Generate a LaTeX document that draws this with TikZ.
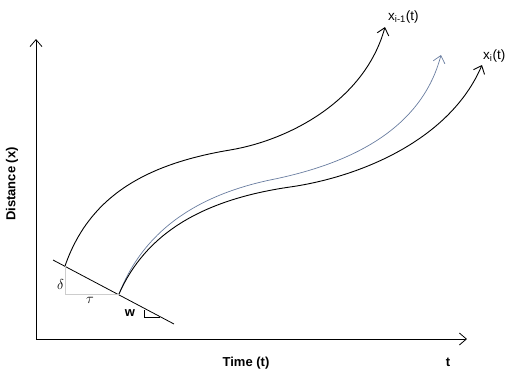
\documentclass[tikz,border=0pt]{standalone}
\usepackage{fontspec}
\setsansfont{Liberation Sans}
\usetikzlibrary{arrows.meta}
\usetikzlibrary{positioning}
\definecolor{trailblue}{RGB}{105,125,160}
\definecolor{guide}{RGB}{205,205,205}
\tikzset{>={Straight Barb[length=7pt,width=12pt]}}
\tikzset{traj/.style={line width=0.9pt,->}}
\tikzset{axlab/.style={font=\sffamily\bfseries\fontsize{13}{15}\selectfont,inner sep=0pt}}
\tikzset{curvlab/.style={font=\sffamily\fontsize{13.5}{15}\selectfont,anchor=west,inner sep=0pt}}
\tikzset{greek/.style={font=\fontsize{14}{16}\selectfont,inner sep=0pt}}

\begin{document}
\begin{tikzpicture}[x=1pt,y=-1pt]
        \useasboundingbox (0,0) rectangle (516,381);

        \coordinate (O) at (36,339);
        \coordinate (Ytop) at (36,39);
        \coordinate (Xend) at (467,339);

        \draw[line width=0.8pt,->] (O) -- (Ytop);
        \draw[line width=0.8pt,->] (O) -- (Xend);

        \node[axlab,rotate=90] (dist) at (12,184) {Distance (x)};
        \node[axlab] (time) at (246,363) {Time (t)};
        \node[axlab] (tend) at (448,362) {t};

        % stop line
        \coordinate (L1) at (53,260);
        \coordinate (L2) at (174,324);
        \draw[line width=0.8pt] (L1) -- (L2);

        \coordinate (A0) at (65,266);
        \coordinate (B0) at (119,294);
        \coordinate (G) at (65,294);
        \draw[guide] (A0) -- (G) -- (B0);
        \node[greek] (delta) [left=1pt of G, yshift=10pt] {$\delta$};
        \node[greek] (tau) [below=3pt of G, xshift=25pt] {$\tau$};

        \node[axlab] (w) at (130,313) {w};
        \coordinate (R1) at (144,310);
        \coordinate (R2) at (144,317);
        \coordinate (R3) at (160,317);
        \draw[line width=0.6pt] (R1) -- (R2) -- (R3);

        % trajectories
        \coordinate (A1) at (385,27);
        \coordinate (B1) at (482,65);
        \coordinate (C1) at (441,55);
        \draw[traj] (A0) .. controls (88,200) and (140,165) .. (230,150)
                .. controls (290,140) and (365,100) .. (A1);
        \draw[traj,trailblue,line width=0.7pt] (B0) .. controls (140,240) and (185,198) .. (270,180)
                .. controls (340,166) and (420,135) .. (C1);
        \draw[traj] (B0) .. controls (145,235) and (200,200) .. (290,187)
                .. controls (360,177) and (450,140) .. (B1);

        \node[curvlab] (xim) at (388,17) {x\textsubscript{i-1}(t)};
        \node[curvlab] (xi) at (483,56) {x\textsubscript{i}(t)};
\end{tikzpicture}
\end{document}
